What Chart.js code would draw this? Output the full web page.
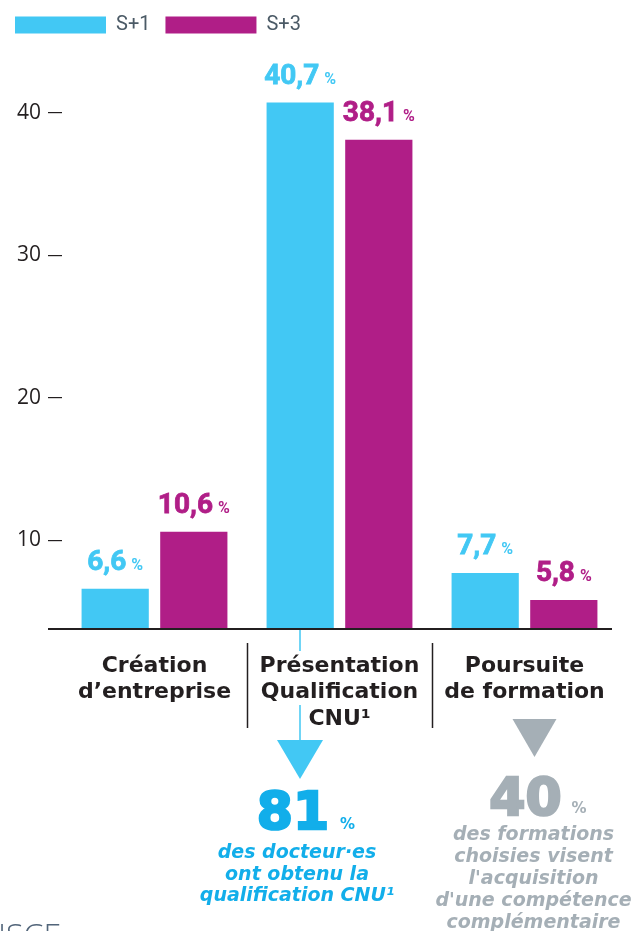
<!DOCTYPE html>
<html lang="fr">
<head>
    <meta charset="UTF-8">
    <title>Poursuite après le doctorat</title>
    <script src="https://cdn.jsdelivr.net/npm/chart.js"></script>
    <style>
        body {
            margin: 0;
            background: #ffffff;
        }
        #chartContainer {
            width: 635px;
            height: 931px;
        }
    </style>
</head>
<body>

<div id="chartContainer">
    <canvas id="doctChart" width="635" height="931"></canvas>
</div>

<script>
    // data
    const categories = [
        ['Création', 'd’entreprise'],
        ['Présentation', 'Qualification', 'CNU¹'],
        ['Poursuite', 'de formation']
    ];
    const seriesNames = ['S+1', 'S+3'];
    const s1Values = [6.6, 40.7, 7.7];
    const s3Values = [10.6, 38.1, 5.8];
    const yTicks = [10, 20, 30, 40];

    const cnuNumber = '81';
    const cnuLines = ['des docteur·es', 'ont obtenu la', 'qualification CNU¹'];
    const formNumber = '40';
    const formLines = ['des formations', 'choisies visent', 'l\'acquisition', 'd\'une compétence', 'complémentaire'];

    const cyan = '#42c8f4';
    const magenta = '#b01e87';
    const dark = '#231f20';
    const blueText = '#12aeea';
    const grey = '#a5afb6';

    // value labels over the bars, "6,6 %"
    const valueLabels = {
        id: 'valueLabels',
        afterDatasetsDraw(chart) {
            const ctx = chart.ctx;
            ctx.save();
            chart.data.datasets.forEach((ds, di) => {
                const meta = chart.getDatasetMeta(di);
                meta.data.forEach((bar, i) => {
                    const txt = ds.data[i].toFixed(1).replace('.', ',');
                    ctx.font = 'bold 28px Roboto';
                    const w1 = ctx.measureText(txt).width;
                    ctx.font = 'bold 16px Roboto';
                    const w2 = ctx.measureText('%').width;
                    const start = bar.x - (w1 + 5 + w2) / 2;
                    const base = bar.y - 19;
                    ctx.fillStyle = ds.backgroundColor;
                    ctx.strokeStyle = ds.backgroundColor;
                    ctx.lineWidth = 0.8;
                    ctx.textAlign = 'left';
                    ctx.textBaseline = 'alphabetic';
                    ctx.font = 'bold 28px Roboto';
                    ctx.fillText(txt, start, base);
                    ctx.strokeText(txt, start, base);
                    ctx.font = 'bold 16px Roboto';
                    ctx.fillText('%', start + w1 + 5, base);
                });
            });
            ctx.restore();
        }
    };

    // baseline, separators, arrows and the two call-outs under the axis
    const extras = {
        id: 'extras',
        afterDraw(chart) {
            const ctx = chart.ctx;
            const area = chart.chartArea;
            const xs = chart.scales.x;
            ctx.save();

            // baseline
            ctx.strokeStyle = dark;
            ctx.lineWidth = 2;
            ctx.beginPath();
            ctx.moveTo(48, area.bottom);
            ctx.lineTo(area.right - 5, area.bottom);
            ctx.stroke();

            // separators between categories
            ctx.lineWidth = 1.5;
            for (let i = 0; i < categories.length - 1; i++) {
                const sx = Math.round((xs.getPixelForTick(i) + xs.getPixelForTick(i + 1)) / 2) + 0.5;
                ctx.beginPath();
                ctx.moveTo(sx, area.bottom + 14);
                ctx.lineTo(sx, area.bottom + 99);
                ctx.stroke();
            }

            // cyan line + arrow from the CNU bar
            const cnuX = Math.round(chart.getDatasetMeta(0).data[1].x);
            ctx.strokeStyle = cyan;
            ctx.lineWidth = 1.5;
            ctx.beginPath();
            ctx.moveTo(cnuX, area.bottom + 1);
            ctx.lineTo(cnuX, area.bottom + 22);
            ctx.moveTo(cnuX, area.bottom + 76);
            ctx.lineTo(cnuX, area.bottom + 112);
            ctx.stroke();
            ctx.fillStyle = cyan;
            ctx.beginPath();
            ctx.moveTo(cnuX - 23, area.bottom + 111);
            ctx.lineTo(cnuX + 23, area.bottom + 111);
            ctx.lineTo(cnuX, area.bottom + 150);
            ctx.closePath();
            ctx.fill();

            // grey arrow under "Poursuite de formation"
            const formX = xs.getPixelForTick(2) + 10;
            ctx.fillStyle = grey;
            ctx.beginPath();
            ctx.moveTo(formX - 22, area.bottom + 90);
            ctx.lineTo(formX + 22, area.bottom + 90);
            ctx.lineTo(formX, area.bottom + 128);
            ctx.closePath();
            ctx.fill();

            // 81 %
            ctx.textBaseline = 'alphabetic';
            ctx.fillStyle = blueText;
            ctx.strokeStyle = blueText;
            ctx.lineWidth = 2.5;
            ctx.textAlign = 'center';
            ctx.font = 'bold 52px "DejaVu Sans"';
            ctx.fillText(cnuNumber, cnuX - 7, area.bottom + 200);
            ctx.strokeText(cnuNumber, cnuX - 7, area.bottom + 200);
            ctx.textAlign = 'left';
            ctx.font = 'bold 15px "DejaVu Sans"';
            ctx.fillText('%', cnuX + 40, area.bottom + 200);
            ctx.textAlign = 'center';
            ctx.font = 'bold oblique 19px "DejaVu Sans"';
            cnuLines.forEach((l, i) => {
                ctx.fillText(l, cnuX - 3, area.bottom + 229 + i * 21.5);
            });

            // 40 %
            ctx.fillStyle = grey;
            ctx.strokeStyle = grey;
            ctx.font = 'bold 52px "DejaVu Sans"';
            ctx.fillText(formNumber, formX - 9, area.bottom + 186);
            ctx.strokeText(formNumber, formX - 9, area.bottom + 186);
            ctx.textAlign = 'left';
            ctx.font = 'bold 15px "DejaVu Sans"';
            ctx.fillText('%', formX + 37, area.bottom + 184);
            ctx.textAlign = 'center';
            ctx.font = 'bold oblique 19px "DejaVu Sans"';
            formLines.forEach((l, i) => {
                ctx.fillText(l, formX - 1, area.bottom + 211 + i * 22);
            });

            // logo cut at the bottom edge
            ctx.fillStyle = '#52657a';
            ctx.textAlign = 'left';
            ctx.font = '300 32px "Open Sans"';
            ctx.fillText('ISCE', -2, 946);

            ctx.restore();
        }
    };

    const ctx = document.getElementById('doctChart').getContext('2d');

    const doctChart = new Chart(ctx, {
        type: 'bar',
        data: {
            labels: categories,
            datasets: [
                {
                    label: seriesNames[0],
                    data: s1Values,
                    backgroundColor: cyan,
                    categoryPercentage: 0.85,
                    barPercentage: 0.855
                },
                {
                    label: seriesNames[1],
                    data: s3Values,
                    backgroundColor: magenta,
                    categoryPercentage: 0.85,
                    barPercentage: 0.855
                }
            ]
        },
        options: {
            responsive: false,
            animation: false,
            devicePixelRatio: 1,
            layout: {
                padding: { left: 0, right: 18, top: 0, bottom: 0 }
            },
            scales: {
                x: {
                    grid: { display: false, drawTicks: false },
                    border: { display: false },
                    ticks: {
                        color: dark,
                        padding: 24,
                        maxRotation: 0,
                        font: { family: 'DejaVu Sans', weight: 'bold', size: 22, lineHeight: 1.2 }
                    },
                    afterFit(scale) {
                        scale.height = 302;
                    }
                },
                y: {
                    min: 3.77,
                    max: 44.74,
                    afterBuildTicks(scale) {
                        scale.ticks = yTicks.map(v => ({ value: v }));
                    },
                    grid: {
                        drawOnChartArea: false,
                        drawTicks: true,
                        tickLength: 14,
                        color: dark,
                        lineWidth: 1.2
                    },
                    border: { display: false },
                    ticks: {
                        color: dark,
                        padding: 7,
                        font: { family: 'Open Sans', size: 21 }
                    },
                    afterFit(scale) {
                        scale.width = 62;
                    }
                }
            },
            plugins: {
                legend: {
                    display: true,
                    position: 'top',
                    align: 'start',
                    labels: {
                        boxWidth: 91,
                        boxHeight: 17,
                        padding: 15,
                        color: '#4b5a66',
                        font: { family: 'Roboto', size: 20 }
                    }
                },
                tooltip: { enabled: false }
            }
        },
        plugins: [valueLabels, extras]
    });
</script>

</body>
</html>
